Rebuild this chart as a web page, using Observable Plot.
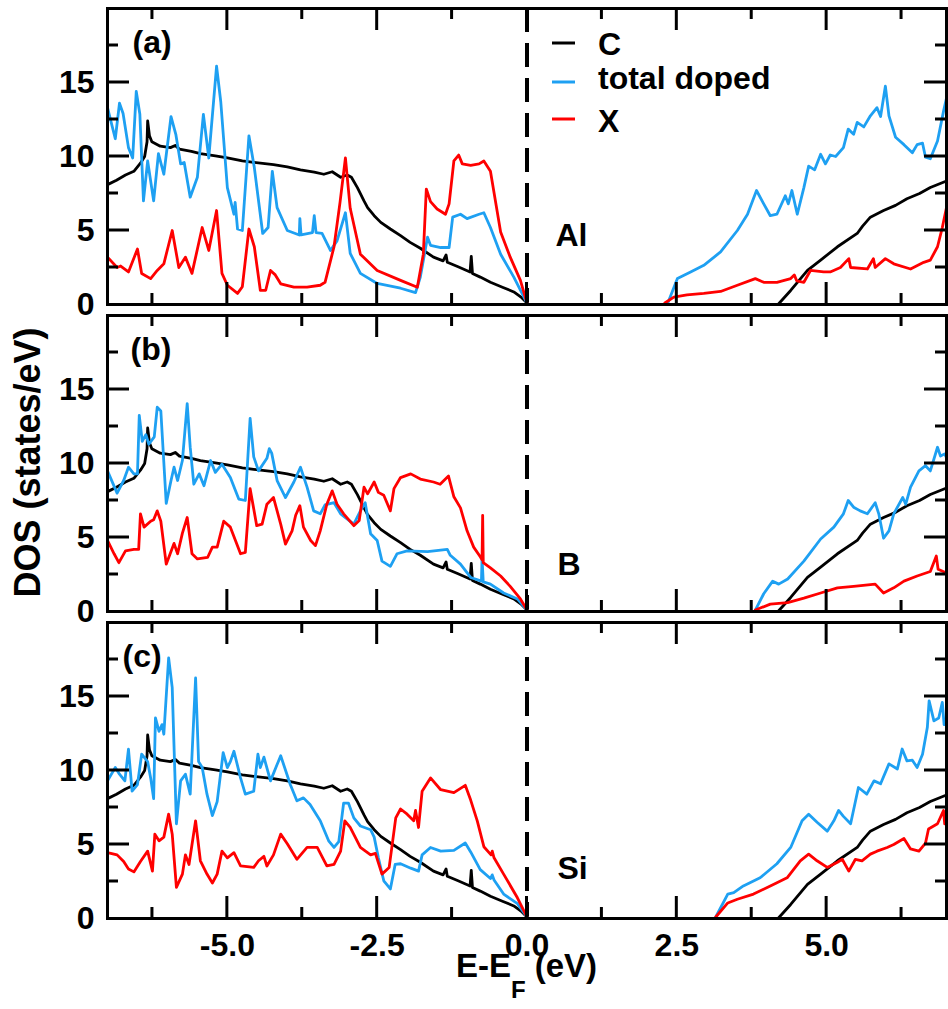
<!DOCTYPE html>
<html>
<head>
<meta charset="utf-8">
<script src="https://cdn.jsdelivr.net/npm/d3@7"></script>
<script src="https://cdn.jsdelivr.net/npm/@observablehq/plot@0.6"></script>
<style>
  html, body { margin: 0; padding: 0; background: white; overflow: hidden; }
  #chart { position: relative; width: 948px; height: 1009px; }
  #chart > svg { display: block; }
</style>
</head>
<body>
<div id="chart"></div>
<script>
// ---------- data: [E - E_F (eV), DOS (states/eV)]; null DOS = gap ----------
const dosC = [[-7,8.1],[-6.85,8.4],[-6.7,8.75],[-6.56,9.0],[-6.45,9.55],[-6.38,10.0],[-6.34,11.0],[-6.33,12.4],[-6.3,11.4],[-6.26,11.0],[-6.12,10.7],[-5.95,10.6],[-5.87,10.75],[-5.8,10.5],[-5.6,10.35],[-5.45,10.2],[-5.2,10.05],[-5.0,9.9],[-4.75,9.7],[-4.56,9.6],[-4.23,9.45],[-4.0,9.3],[-3.78,9.1],[-3.55,8.95],[-3.39,8.8],[-3.25,8.97],[-3.11,8.6],[-3.0,8.75],[-2.93,8.6],[-2.83,7.9],[-2.72,7.0],[-2.66,6.55],[-2.55,6.0],[-2.44,5.55],[-2.28,5.1],[-2.11,4.65],[-1.95,4.2],[-1.78,3.8],[-1.56,3.2],[-1.4,2.95],[-1.35,3.35],[-1.33,2.85],[-1.15,2.55],[-0.95,2.2],[-0.93,3.25],[-0.91,2.1],[-0.78,1.85],[-0.61,1.5],[-0.4,1.15],[-0.22,0.85],[-0.1,0.5],[0,0.1],[0.02,null],[4.2,0.05],[4.4,0.95],[4.68,2.3],[4.9,3.0],[5.18,3.9],[5.51,4.8],[5.6,5.3],[5.73,5.9],[5.95,6.35],[6.15,6.7],[6.34,7.15],[6.55,7.5],[6.73,7.9],[7.0,8.35]];

const alTotal = [[-7,13.3],[-6.87,11.2],[-6.8,13.6],[-6.74,12.9],[-6.65,10.6],[-6.58,9.9],[-6.52,14.4],[-6.46,12.85],[-6.4,7.0],[-6.33,9.7],[-6.23,7.0],[-6.15,10.2],[-6.06,8.8],[-5.94,12.7],[-5.86,11.5],[-5.78,9.5],[-5.72,9.6],[-5.62,7.25],[-5.5,8.6],[-5.4,12.85],[-5.31,9.9],[-5.18,16.1],[-5.11,13.7],[-5.0,7.9],[-4.89,6.1],[-4.87,6.9],[-4.83,5.1],[-4.75,5.0],[-4.64,11.4],[-4.55,9.25],[-4.41,4.8],[-4.32,5.2],[-4.25,9.0],[-4.17,6.55],[-4.0,5.0],[-3.8,4.7],[-3.79,5.8],[-3.77,4.7],[-3.58,4.85],[-3.55,6.0],[-3.52,4.85],[-3.42,4.8],[-3.28,3.65],[-3.17,4.3],[-3.03,6.2],[-2.95,3.45],[-2.78,2.1],[-2.5,1.42],[-2.11,1.1],[-1.86,0.8],[-1.78,1.85],[-1.66,4.55],[-1.61,4.0],[-1.44,3.85],[-1.3,3.85],[-1.24,5.9],[-1.11,6.1],[-1.0,5.8],[-0.8,6.1],[-0.72,6.2],[-0.61,5.2],[-0.44,3.4],[-0.22,1.85],[0,0.1],[0.02,null],[2.35,0.1],[2.51,1.75],[2.73,2.2],[2.95,2.65],[3.23,3.55],[3.51,5.0],[3.68,6.1],[3.83,7.7],[3.95,6.8],[4.06,6.0],[4.17,6.1],[4.31,7.35],[4.36,6.8],[4.42,7.7],[4.51,6.1],[4.62,7.9],[4.7,9.35],[4.8,9.1],[4.9,10.15],[4.98,9.5],[5.06,10.1],[5.15,10.0],[5.28,10.6],[5.36,11.85],[5.45,11.5],[5.51,12.3],[5.62,12.0],[5.73,12.75],[5.84,13.3],[5.9,12.7],[5.98,14.75],[6.04,12.75],[6.15,11.3],[6.29,10.8],[6.43,10.25],[6.51,10.8],[6.6,10.9],[6.65,9.95],[6.73,9.85],[6.85,11.05],[6.95,13.05],[7.0,13.95]];

const alX = [[-7,3.2],[-6.84,2.5],[-6.78,2.6],[-6.65,2.2],[-6.5,3.75],[-6.43,2.1],[-6.28,1.75],[-6.17,2.3],[-6.06,2.75],[-5.92,5.0],[-5.81,2.5],[-5.7,3.2],[-5.59,2.1],[-5.42,5.2],[-5.31,3.65],[-5.18,6.35],[-5.09,2.1],[-5.0,1.3],[-4.83,0.75],[-4.75,1.2],[-4.64,5.1],[-4.55,3.9],[-4.45,0.96],[-4.36,0.96],[-4.28,2.3],[-4.2,2.0],[-4.11,1.4],[-3.89,1.17],[-3.67,1.17],[-3.45,1.3],[-3.37,1.5],[-3.22,3.9],[-3.12,6.9],[-3.03,9.9],[-2.95,6.5],[-2.78,3.4],[-2.5,2.3],[-2.11,1.63],[-1.83,1.17],[-1.73,3.4],[-1.68,7.8],[-1.61,6.95],[-1.5,6.45],[-1.36,6.1],[-1.3,6.8],[-1.22,9.7],[-1.14,10.1],[-1.08,9.5],[-0.94,9.4],[-0.8,9.5],[-0.72,9.7],[-0.61,9.0],[-0.44,4.9],[-0.28,3.2],[-0.11,1.63],[0,0.1],[0.02,null],[2.3,0.1],[2.45,0.5],[2.67,0.65],[2.95,0.75],[3.23,0.88],[3.51,1.3],[3.81,1.75],[3.95,1.5],[4.17,1.5],[4.4,1.75],[4.46,2.0],[4.5,1.6],[4.62,1.5],[4.73,2.3],[4.95,2.2],[5.06,2.2],[5.23,2.5],[5.37,3.1],[5.4,2.5],[5.68,2.4],[5.78,3.1],[5.81,2.5],[5.98,3.1],[6.12,2.75],[6.4,2.4],[6.62,2.85],[6.73,3.0],[6.85,3.9],[6.93,5.2],[7.0,6.55]];

const bTotal = [[-7,9.5],[-6.84,8.0],[-6.73,8.85],[-6.65,9.75],[-6.56,9.3],[-6.5,9.3],[-6.47,13.25],[-6.42,11.5],[-6.36,11.95],[-6.31,11.3],[-6.22,11.8],[-6.17,13.8],[-6.11,13.55],[-6.02,7.3],[-5.94,8.85],[-5.89,9.75],[-5.83,8.85],[-5.75,10.2],[-5.67,14.05],[-5.62,11.1],[-5.56,8.6],[-5.47,9.3],[-5.39,8.5],[-5.28,10.2],[-5.2,9.4],[-5.09,9.95],[-4.95,9.05],[-4.81,7.6],[-4.7,7.5],[-4.62,13.05],[-4.56,10.45],[-4.48,9.5],[-4.34,10.35],[-4.3,11.0],[-4.26,10.7],[-4.17,8.85],[-4.03,7.7],[-3.89,8.75],[-3.78,9.75],[-3.67,8.4],[-3.56,6.8],[-3.45,6.6],[-3.37,7.2],[-3.22,7.35],[-3.11,6.6],[-2.89,5.9],[-2.78,6.8],[-2.7,7.35],[-2.61,5.25],[-2.5,4.8],[-2.42,3.4],[-2.28,3.05],[-2.17,3.9],[-2.0,4.1],[-1.66,4.05],[-1.33,4.2],[-1.28,3.8],[-1.11,3.2],[-0.94,2.3],[-0.76,2.05],[-0.75,3.6],[-0.73,2.0],[-0.61,1.85],[-0.39,1.25],[-0.16,0.85],[0,0.1],[0.02,null],[3.81,0.1],[3.95,1.2],[4.1,2.05],[4.2,1.85],[4.35,2.2],[4.62,3.4],[4.9,4.9],[5.12,5.7],[5.28,6.6],[5.36,7.5],[5.45,7.05],[5.56,6.8],[5.68,6.6],[5.81,7.35],[5.87,6.6],[5.95,4.95],[6.04,5.45],[6.12,6.6],[6.27,7.7],[6.32,7.25],[6.4,8.4],[6.54,9.5],[6.65,9.85],[6.73,9.5],[6.85,11.1],[6.9,10.5],[6.97,10.65],[7.0,10.4]];

const bX = [[-7,4.8],[-6.89,3.9],[-6.81,3.3],[-6.7,4.1],[-6.56,4.2],[-6.48,4.2],[-6.45,6.6],[-6.39,5.7],[-6.28,6.1],[-6.23,6.2],[-6.17,6.8],[-6.11,6.1],[-6.02,3.2],[-5.89,4.6],[-5.83,3.9],[-5.75,5.3],[-5.67,6.35],[-5.59,3.9],[-5.5,3.55],[-5.33,3.65],[-5.25,4.35],[-5.17,4.35],[-5.06,6.1],[-4.95,5.7],[-4.78,3.9],[-4.7,4.0],[-4.62,8.3],[-4.51,5.8],[-4.42,5.9],[-4.34,7.25],[-4.23,7.7],[-4.11,5.9],[-4.03,4.55],[-3.92,5.45],[-3.86,6.5],[-3.79,7.15],[-3.73,5.7],[-3.61,4.8],[-3.53,4.45],[-3.45,5.45],[-3.34,7.25],[-3.25,8.15],[-3.17,7.25],[-3.06,6.6],[-2.89,5.8],[-2.8,6.15],[-2.72,8.4],[-2.66,7.95],[-2.55,8.75],[-2.48,8.05],[-2.39,7.85],[-2.28,6.8],[-2.22,8.3],[-2.11,9.05],[-1.94,9.3],[-1.78,8.95],[-1.56,8.75],[-1.45,8.6],[-1.31,9.15],[-1.22,7.75],[-1.11,7.0],[-1.0,5.45],[-0.89,4.35],[-0.78,3.7],[-0.75,3.5],[-0.74,6.5],[-0.73,3.3],[-0.61,2.95],[-0.44,2.4],[-0.28,1.7],[-0.11,0.85],[0,0.1],[0.02,null],[3.81,0.1],[4.06,0.5],[4.35,0.6],[4.62,0.9],[4.9,1.25],[5.18,1.6],[5.45,1.7],[5.81,1.85],[5.95,1.25],[6.12,1.6],[6.29,2.05],[6.51,2.4],[6.73,2.7],[6.83,3.75],[6.86,2.85],[7.0,2.6]];

const siTotal = [[-7,9.3],[-6.87,10.2],[-6.8,9.75],[-6.71,9.3],[-6.65,11.45],[-6.59,8.6],[-6.5,9.05],[-6.43,11.1],[-6.33,10.6],[-6.28,9.5],[-6.23,8.1],[-6.2,13.55],[-6.14,12.65],[-6.09,13.1],[-6.06,12.45],[-5.98,17.6],[-5.92,15.6],[-5.85,6.4],[-5.78,9.3],[-5.7,9.75],[-5.62,8.4],[-5.53,16.25],[-5.48,10.6],[-5.42,10.2],[-5.34,8.4],[-5.25,6.95],[-5.17,7.9],[-5.07,11.2],[-5.0,10.2],[-4.95,10.6],[-4.89,11.3],[-4.78,9.5],[-4.7,8.4],[-4.56,8.6],[-4.49,11.1],[-4.45,10.2],[-4.39,10.9],[-4.28,9.3],[-4.17,10.4],[-4.11,11.0],[-3.95,9.05],[-3.84,7.95],[-3.73,8.15],[-3.62,7.7],[-3.45,6.6],[-3.31,5.25],[-3.22,4.8],[-3.14,5.2],[-3.06,7.8],[-2.98,7.8],[-2.89,6.8],[-2.78,6.25],[-2.61,6.0],[-2.55,5.5],[-2.48,4.1],[-2.39,2.55],[-2.28,2.0],[-2.2,3.65],[-2.11,3.7],[-1.94,3.4],[-1.81,3.2],[-1.75,4.3],[-1.61,4.8],[-1.44,4.55],[-1.22,4.6],[-1.03,5.1],[-0.94,4.5],[-0.78,3.3],[-0.61,2.7],[-0.58,2.95],[-0.55,2.6],[-0.39,1.65],[-0.16,1.0],[0,0.1],[0.02,null],[3.15,0.1],[3.35,1.65],[3.45,1.75],[3.61,2.2],[3.89,2.75],[4.17,3.7],[4.4,4.8],[4.59,6.6],[4.7,7.05],[4.84,6.5],[5.01,5.9],[5.12,6.6],[5.2,7.3],[5.28,6.9],[5.4,6.4],[5.53,8.85],[5.67,8.4],[5.79,9.3],[5.9,9.1],[6.04,10.45],[6.18,10.1],[6.26,11.45],[6.34,10.65],[6.43,10.7],[6.51,10.2],[6.6,11.1],[6.68,12.9],[6.71,14.7],[6.79,13.35],[6.87,13.55],[6.93,14.6],[6.96,13.1],[7.0,13.35]];

const siX = [[-7,4.45],[-6.84,4.3],[-6.73,3.85],[-6.65,3.35],[-6.56,3.15],[-6.45,3.85],[-6.33,4.55],[-6.25,3.2],[-6.21,5.7],[-6.14,5.25],[-6.06,5.5],[-5.98,7.05],[-5.92,5.7],[-5.85,2.1],[-5.75,3.0],[-5.7,4.3],[-5.64,3.65],[-5.53,6.6],[-5.45,3.9],[-5.34,3.0],[-5.25,2.4],[-5.17,3.0],[-5.09,4.55],[-5.0,4.1],[-4.89,4.45],[-4.78,3.55],[-4.56,3.45],[-4.48,3.9],[-4.39,4.2],[-4.34,3.55],[-4.23,4.3],[-4.11,5.7],[-4.0,5.05],[-3.84,4.0],[-3.67,4.8],[-3.5,4.8],[-3.34,3.55],[-3.22,3.65],[-3.11,4.55],[-3.04,6.6],[-2.95,6.15],[-2.78,4.8],[-2.61,4.3],[-2.53,4.4],[-2.42,3.0],[-2.3,3.45],[-2.19,6.8],[-2.11,7.4],[-2.0,7.05],[-1.89,6.6],[-1.86,7.3],[-1.81,6.15],[-1.75,8.6],[-1.61,9.5],[-1.44,8.7],[-1.22,8.5],[-1.03,9.0],[-0.94,8.0],[-0.83,6.6],[-0.72,4.85],[-0.6,4.3],[-0.58,4.55],[-0.55,4.1],[-0.39,3.0],[-0.16,1.4],[0,0.1],[0.02,null],[3.15,0.1],[3.35,1.05],[3.51,1.3],[3.78,1.65],[4.06,2.2],[4.34,2.75],[4.56,3.9],[4.7,4.35],[4.84,3.9],[5.01,3.45],[5.18,3.8],[5.26,4.0],[5.37,3.2],[5.48,4.0],[5.59,3.9],[5.73,4.35],[5.84,4.55],[6.01,4.8],[6.12,5.0],[6.29,5.4],[6.4,4.7],[6.54,4.55],[6.65,5.1],[6.7,6.05],[6.85,6.4],[6.95,7.3],[6.97,6.4],[7.0,6.6]];

// ---------- labels ----------
const seriesNames = ["C", "total doped", "X"];
const seriesColors = ["#000000", "#1ea0f2", "#ff0000"];
const panelLetters = ["(a)", "(b)", "(c)"];
const dopants = ["Al", "B", "Si"];
const yTickLabels = [0, 5, 10, 15];
const xTickLabels = [-5, -2.5, 0, 2.5, 5];
const xDomain = [-7, 7], yDomain = [0, 20];
const xLabelMain = "E-E", xLabelSub = "F", xLabelUnit = " (eV)";
const yLabel = "DOS (states/eV)";

const FONT = "'Liberation Sans', Arial, Helvetica, sans-serif";
const W = 948, ML = 107, MR = 2, MT = 8, INNER_H = 296;
const INNER_W = W - ML - MR;
const panelMarginBottom = [3, 3, 91];

// tick layout: [tick values, length in px] for each axis
function tickSpec() {
  return {
    x: [[[-5, -2.5, 0, 2.5, 5], 22], [[-6.25, -3.75, -1.25, 1.25, 3.75, 6.25], 11]],
    y: [[[5, 10, 15], 22], [[2.5, 7.5, 12.5, 17.5], 11]]
  };
}

function panel(i, total, dopantX, opts) {
  const line = (data, color) => Plot.line(data, {x: d => d[0], y: d => d[1], stroke: color, strokeWidth: 2.8, strokeLinejoin: "round"});
  const marks = [
    Plot.ruleX([0], {stroke: "black", strokeWidth: 4, strokeDasharray: "24,11"}),
    line(dosC, seriesColors[0]),
    line(total, seriesColors[1]),
    line(dopantX, seriesColors[2]),
    Plot.frame({stroke: "black", strokeWidth: 3}),
    Plot.axisY({anchor: "left", ticks: yTickLabels, tickSize: 0, tickPadding: 13, tickFormat: d => String(d), label: null}),
    opts.xLabels ? Plot.axisX({anchor: "bottom", ticks: xTickLabels, tickSize: 0, tickPadding: 15, tickFormat: d => d.toFixed(1), label: null}) : Plot.axisX({ticks: [], label: null, tickSize: 0}),
    Plot.text([panelLetters[i]], {text: d => d, frameAnchor: "top-left", dx: opts.letterDx, dy: 44, textAnchor: "start", lineAnchor: "bottom"}),
    Plot.text([dopants[i]], {text: d => d, frameAnchor: "bottom-left", dx: opts.dopDx, dy: opts.dopDy, textAnchor: "start", lineAnchor: "bottom"})
  ];
  return Plot.plot({
    width: W, height: MT + INNER_H + panelMarginBottom[i],
    marginLeft: ML, marginRight: MR, marginTop: MT, marginBottom: panelMarginBottom[i],
    x: {domain: xDomain},
    y: {domain: yDomain},
    style: {fontFamily: FONT, fontSize: "32px", fontWeight: "bold", background: "transparent", overflow: "visible", color: "black"},
    marks
  });
}

const chart = document.getElementById("chart");
const panels = [
  panel(0, alTotal, alX, {letterDx: 25, dopDx: 448, dopDy: -59}),
  panel(1, bTotal, bX, {letterDx: 23, dopDx: 450, dopDy: -37}),
  panel(2, siTotal, siX, {xLabels: true, letterDx: 15, dopDx: 450, dopDy: -40})
];
panels.forEach(p => chart.append(p));

// ---------- overlay: legend, axis titles, then inward ticks ----------
const ov = d3.select(chart).append("svg")
  .attr("width", 948).attr("height", 1009)
  .style("position", "absolute").style("left", "0px").style("top", "0px")
  .style("pointer-events", "none")
  .attr("font-family", FONT).attr("font-weight", "bold");

const legendLineY = [43, 82, 119];
const legendTextY = [55, 89, 131.5];
seriesNames.forEach((name, k) => {
  ov.append("line").attr("x1", 552).attr("x2", 575).attr("y1", legendLineY[k]).attr("y2", legendLineY[k])
    .attr("stroke", seriesColors[k]).attr("stroke-width", 3);
  ov.append("text").attr("x", 598).attr("y", legendTextY[k]).attr("font-size", 32).text(name);
});

const xl = ov.append("text").attr("x", 526.5).attr("y", 977).attr("text-anchor", "middle").attr("font-size", 33);
xl.append("tspan").text(xLabelMain);
xl.append("tspan").attr("font-size", 24).attr("dy", 21).text(xLabelSub);
xl.append("tspan").attr("dy", -21).text(xLabelUnit);

ov.append("text").attr("transform", "translate(39.5,462.5) rotate(-90)")
  .attr("text-anchor", "middle").attr("font-size", 36).text(yLabel);

// ticks: each one its own line element, mapped with the same linear scales as the panels
{
  const spec = tickSpec();
  const sx = d3.scaleLinear().domain(xDomain).range([ML, W - MR]);
  const addTick = (x1, y1, x2, y2) => ov.append("line")
    .attr("x1", x1).attr("y1", y1).attr("x2", x2).attr("y2", y2)
    .attr("stroke", "#000000").attr("stroke-width", 3);
  let off = 0;
  panelMarginBottom.forEach(mb => {
    const sy = d3.scaleLinear().domain(yDomain).range([off + MT + INNER_H, off + MT]);
    for (const [vals, len] of spec.x) for (const v of vals) {
      addTick(sx(v), sy(yDomain[0]), sx(v), sy(yDomain[0]) - len);
      addTick(sx(v), sy(yDomain[1]), sx(v), sy(yDomain[1]) + len);
    }
    for (const [vals, len] of spec.y) for (const v of vals) {
      addTick(sx(xDomain[0]), sy(v), sx(xDomain[0]) + len, sy(v));
      addTick(sx(xDomain[1]), sy(v), sx(xDomain[1]) - len, sy(v));
    }
    off += MT + INNER_H + mb;
  });
}
</script>
</body>
</html>
